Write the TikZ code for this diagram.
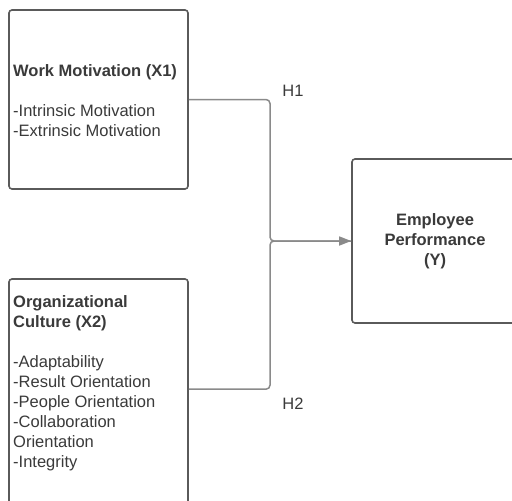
\documentclass[tikz,border=0pt]{standalone}
\usepackage{fontspec}
\setmainfont{Liberation Sans}
\usetikzlibrary{arrows.meta,calc}
\definecolor{txt}{HTML}{3A3A3A}
\definecolor{boxc}{HTML}{5A5A5A}
\definecolor{conn}{HTML}{8A8A8A}
\begin{document}
\begin{tikzpicture}[x=1pt,y=-1pt,
  box/.style={draw=boxc,line width=1.6pt,rounded corners=3pt,inner sep=0pt,fill=white},
  lbl/.style={text=txt,font=\fontsize{16.5}{20}\selectfont,inner sep=0pt},
  link/.style={draw=conn,line width=1.5pt,rounded corners=4pt}]
\useasboundingbox (0,0) rectangle (512,501);
\begin{scope}
\clip (0,0) rectangle (512,501);
\node[box,minimum width=179pt,minimum height=179pt] (b1) at (98.5,99.5) {};
\node[box,minimum width=179pt,minimum height=250pt] (b2) at (98.5,404) {};
\node[box,minimum width=166pt,minimum height=164pt] (b3) at (435,241) {};
\end{scope}
\node[lbl,anchor=west,align=left] (t1) at (13,101) {\textbf{Work Motivation (X1)}\\[20pt]-Intrinsic Motivation\\-Extrinsic Motivation};
\node[lbl,anchor=west,align=left] (t2) at (13,383) {\textbf{Organizational}\\\textbf{Culture (X2)}\\[20pt]-Adaptability\\-Result Orientation\\-People Orientation\\-Collaboration\\Orientation\\-Integrity};
\node[lbl,align=center] (t3) at (435,241) {\textbf{Employee}\\\textbf{Performance}\\\textbf{(Y)}};
\coordinate (j) at (270,241);
\coordinate (e2) at ([yshift=-111pt]b2.north east);
\draw[link] (b1.east) -| (j) -- (b3.west);
\draw[link,-{Triangle[length=12pt,width=9pt]}] (e2) -| (j) -- (b3.west);
\node[lbl] (h1) at (293,91) {H1};
\node[lbl] (h2) at (293,404) {H2};
\end{tikzpicture}
\end{document}
